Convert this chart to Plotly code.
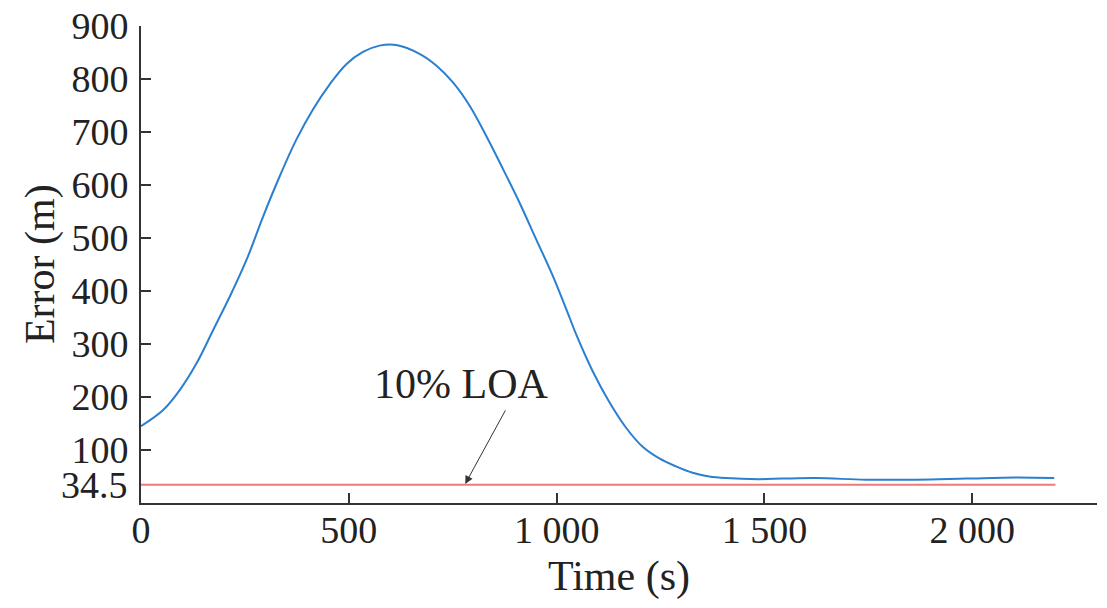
import plotly.graph_objects as go

# Data
time_s = [0, 54, 94, 134, 174, 214, 254, 294, 334, 374, 414, 454, 494, 534, 574, 614,
          671, 711, 751, 791, 831, 871, 911, 951, 991, 1031, 1047, 1087, 1127, 1167,
          1207, 1247, 1287, 1327, 1367, 1407, 1487, 1544, 1624, 1744, 1865, 1985, 2105, 2197]
error_m = [145, 176, 214, 264, 327, 390, 459, 541, 617, 686, 743, 790, 828, 851, 863, 864,
           847, 825, 793, 749, 692, 630, 566, 497, 428, 350, 318, 248, 190, 142,
           106, 84, 69, 57, 50, 47, 45, 46, 47, 44, 44, 46, 48, 47]

loa_time = [0, 2200]
loa_value = [34.5, 34.5]

x_tickvals = [0, 500, 1000, 1500, 2000, 2300]
x_ticktext = ["0", "500", "1 000", "1 500", "2 000", ""]
y_tickvals = [100, 200, 300, 400, 500, 600, 700, 800, 900]
y_ticktext = ["100", "200", "300", "400", "500", "600", "700", "800", "900"]

FONT = "Liberation Serif, Times New Roman, serif"
TXT = "#222222"
AX = "#333333"

fig = go.Figure()
fig.add_trace(go.Scatter(x=loa_time, y=loa_value, mode="lines",
                         line=dict(color="#f07a7a", width=2), showlegend=False))
fig.add_trace(go.Scatter(x=time_s, y=error_m, mode="lines", line_shape="spline",
                         line=dict(color="#2a7fd0", width=2), showlegend=False))

fig.update_layout(
    width=1107, height=608,
    margin=dict(l=133, r=18, t=18, b=113),
    paper_bgcolor="white", plot_bgcolor="white",
    font=dict(family=FONT, size=38, color=TXT),
    xaxis=dict(range=[0, 2300], tickvals=x_tickvals, ticktext=x_ticktext,
               ticks="inside", ticklen=10, tickwidth=2, tickcolor=AX,
               showline=True, linecolor=AX, linewidth=2, showgrid=False, zeroline=False,
               automargin=False, ticklabelstandoff=-8, ticklabeloverflow="allow",
               tickfont=dict(family=FONT, size=38, color=TXT)),
    yaxis=dict(range=[0, 900], tickvals=y_tickvals, ticktext=y_ticktext,
               ticks="inside", ticklen=10, tickwidth=2, tickcolor=AX,
               showline=True, linecolor=AX, linewidth=2, showgrid=False, zeroline=False,
               automargin=False, ticklabelstandoff=3, ticklabeloverflow="allow",
               tickfont=dict(family=FONT, size=38, color=TXT)),
    annotations=[
        dict(text="Error (m)", xref="paper", yref="paper", x=-0.105, y=0.5,
             textangle=-90, showarrow=False, xanchor="center", yanchor="middle",
             font=dict(family=FONT, size=42, color=TXT)),
        dict(text="Time (s)", xref="paper", yref="paper", x=0.5, y=-0.155,
             showarrow=False, xanchor="center", yanchor="middle",
             font=dict(family=FONT, size=42, color=TXT)),
        dict(text="34.5", xref="paper", yref="y", x=0, y=34.5, xanchor="right",
             yanchor="middle", xshift=-11, showarrow=False,
             font=dict(family=FONT, size=38, color=TXT)),
        dict(text="10% LOA", xref="x", yref="y", x=770, y=225, showarrow=False,
             font=dict(family=FONT, size=42, color=TXT)),
        dict(text="", xref="x", yref="y", x=780, y=36, ax=41, ay=-75,
             showarrow=True, arrowhead=2, arrowsize=1.6, arrowwidth=1, arrowcolor="#333333"),
    ],
)

fig.write_html("out.html")
